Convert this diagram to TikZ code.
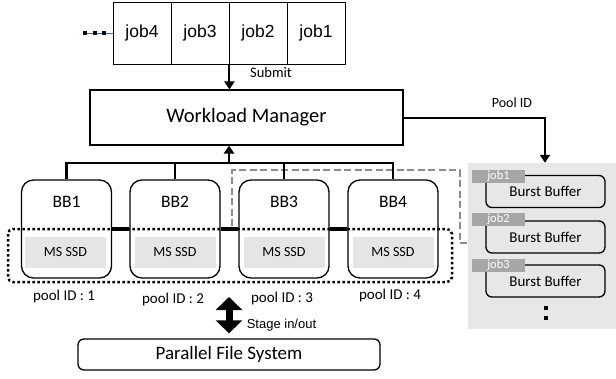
\documentclass[tikz,border=0pt]{standalone}
\usepackage{fontspec}
\setmainfont{Carlito}
\newfontfamily\arialfont{Liberation Sans}
\usetikzlibrary{arrows.meta,positioning}
\definecolor{ssdgray}{gray}{0.9}
\definecolor{taggray}{RGB}{166,166,166}
\definecolor{dashgray}{RGB}{140,140,140}
\definecolor{panelgray}{RGB}{231,231,231}
\definecolor{queueblue}{RGB}{70,100,150}
\tikzset{
    jobbox/.style={
    rectangle,draw=black,line width=0.9pt,minimum width=58pt,minimum height=62pt,inner sep=0pt,
    font=\arialfont\fontsize{17.5}{17.5}\selectfont
    },
    wmbox/.style={
    rectangle,draw=black,line width=1.1pt,minimum width=313pt,minimum height=55pt,
    font=\fontsize{20.5}{20.5}\selectfont
    },
    bbbox/.style={
    rectangle,rounded corners=12pt,draw=black,line width=1.3pt,minimum width=90pt,minimum height=98pt
    },
    bbtext/.style={
    inner sep=0pt,font=\fontsize{17.5}{17.5}\selectfont
    },
    ssdbox/.style={
    rectangle,fill=ssdgray,minimum width=81pt,minimum height=31pt,inner sep=0pt,
    font=\fontsize{14}{14}\selectfont
    },
    poollabel/.style={
    inner sep=0pt,font=\fontsize{15}{15}\selectfont
    },
    smalltext/.style={
    inner sep=0pt,font=\fontsize{14.5}{14.5}\selectfont
    },
    armtext/.style={
    inner sep=0pt,font=\arialfont\fontsize{13}{13}\selectfont
    },
    thickarrow/.style={
    line width=2pt,-{Triangle[width=10pt,length=8pt]}
    },
    bbbus/.style={
    line width=2.5pt
    },
    bblink/.style={
    line width=4pt
    },
    pooldots/.style={
    line width=2.5pt,dash pattern=on 2.5pt off 2.5pt,rounded corners=5pt
    },
    jobdash/.style={
    draw=dashgray,line width=2pt,dash pattern=on 7pt off 3.5pt
    },
    bbpanel/.style={
    rectangle,fill=panelgray,minimum width=148pt,minimum height=166pt,inner sep=0pt
    },
    bufbox/.style={
    rectangle,rounded corners=6pt,draw=black,line width=1.3pt,minimum width=119pt,minimum height=32pt,
    font=\fontsize{15}{15}\selectfont
    },
    jobtag/.style={
    rectangle,fill=taggray,text=white,minimum width=53pt,minimum height=13pt,inner sep=0pt,
    font=\fontsize{12.5}{12.5}\selectfont
    },
    bufdot/.style={
    rectangle,fill=black,minimum size=4pt,inner sep=0pt
    },
    pfsbox/.style={
    rectangle,rounded corners=6pt,draw=black,line width=1.3pt,minimum width=302pt,minimum height=31pt,
    font=\fontsize{19}{19}\selectfont
    },
    stagearrow/.style={
    line width=7pt,{Triangle[width=26pt,length=13pt]}-{Triangle[width=26pt,length=13pt]}
    },
}
\begin{document}
\begin{tikzpicture}[x=1pt,y=-1pt]
   \useasboundingbox (0,0) rectangle (616,378);

   %job queue
   \node[jobbox] (jobfour) at (142,33) {job4};
   \node[jobbox] (jobthree) at (200,33) {job3};
   \node[jobbox] (jobtwo) at (258,33) {job2};
   \node[jobbox] (jobone) at (316,33) {job1};
   \coordinate (more) at (83,33);
   \draw[queueblue,line width=0.6pt] (more) -- (jobfour.west);
   \draw[line width=4pt,dash pattern=on 4pt off 5.5pt] (more) -- ++(24,0);

   %workload manager
   \node[wmbox] (wm) at (246.5,117.5) {Workload Manager};
   \node[smalltext] (submit) at (271,73) {Submit};
   \node[smalltext,font=\fontsize{14}{14}\selectfont] (poolid) at (512,103) {Pool ID};

   %right panel
   \node[bbpanel] (panel) at (542,246) {};
   \node[bufbox] (bufone) at (545.5,191.5) {Burst Buffer};
   \node[bufbox] (buftwo) at (545.5,237) {Burst Buffer};
   \node[bufbox] (bufthree) at (545.5,281) {Burst Buffer};
   \node[jobtag] (tagone) at (498.5,176.5) {job1};
   \node[jobtag] (tagtwo) at (498.5,219) {job2};
   \node[jobtag] (tagthree) at (498.5,265) {job3};
   \node[bufdot] (dotone) at (546,308) {};
   \node[bufdot] (dottwo) at (546,318) {};

   %burst buffer nodes
   \node[bbbox] (bbone) at (66.5,229) {};
   \node[bbbox] (bbtwo) at (175,229) {};
   \node[bbbox] (bbthree) at (284,229) {};
   \node[bbbox] (bbfour) at (393,229) {};
   \node[bbtext] (bbonet) at (66.5,202) {BB1};
   \node[bbtext] (bbtwot) at (175,202) {BB2};
   \node[bbtext] (bbthreet) at (284,202) {BB3};
   \node[bbtext] (bbfourt) at (393,202) {BB4};
   \node[ssdbox] (ssdone) at (65.5,252.5) {MS SSD};
   \node[ssdbox] (ssdtwo) at (175,252.5) {MS SSD};
   \node[ssdbox] (ssdthree) at (284,252.5) {MS SSD};
   \node[ssdbox] (ssdfour) at (393,252.5) {MS SSD};
   \node[poollabel] (poolone) at (64,296) {pool ID : 1};
   \node[poollabel] (pooltwo) at (173,299) {pool ID : 2};
   \node[poollabel] (poolthree) at (282,298) {pool ID : 3};
   \node[poollabel] (poolfour) at (390,295) {pool ID : 4};

   %parallel file system
   \node[pfsbox] (pfs) at (229,354.5) {Parallel File System};
   \node[armtext] (stage) at (281.5,325) {Stage in/out};
   \coordinate (stagetop) at (229,297);

   %job pool outline and pool area
   \draw[jobdash] (232,226) -- (232,170) -- (460,170) -- (460,243) -- (467,243);
   \draw[pooldots] (8,229) rectangle (452,282);

   %connections
   \coordinate (busjoin) at (229,163);
   \draw[thickarrow] (jobthree.south east) -- (jobthree.south east |- wm.north);
   \draw[thickarrow] (wm.east) -| ([xshift=3pt]panel.north);
   \draw[thickarrow,line width=2.5pt] (busjoin) -- (busjoin |- wm.south);
   \draw[bbbus] (bbone.north) -- (bbone.north |- busjoin) -- (bbfour.north |- busjoin) -- (bbfour.north);
   \draw[bbbus] (bbtwo.north) -- (bbtwo.north |- busjoin);
   \draw[bbbus] (bbthree.north) -- (bbthree.north |- busjoin);
   \draw[bblink] (bbone.east) -- (bbtwo.west);
   \draw[bblink] (bbtwo.east) -- (bbthree.west);
   \draw[bblink] (bbthree.east) -- (bbfour.west);
   \draw[stagearrow] (stagetop) -- ([yshift=5pt]pfs.north);
\end{tikzpicture}
\end{document}
